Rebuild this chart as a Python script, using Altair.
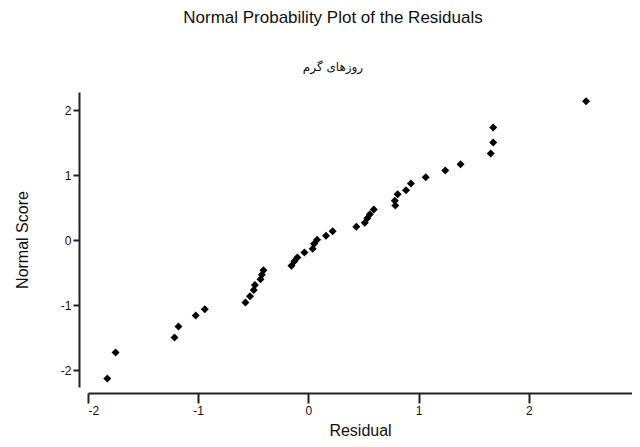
import altair as alt
import pandas as pd

residual = [-1.825, -1.750, -1.215, -1.179, -1.022, -0.940, -0.571, -0.530, -0.496, -0.485,
            -0.435, -0.422, -0.408, -0.154, -0.127, -0.100, -0.036, 0.039, 0.052, 0.079,
            0.160, 0.220, 0.435, 0.512, 0.535, 0.558, 0.594, 0.789, 0.784, 0.810,
            0.886, 0.931, 1.065, 1.242, 1.381, 1.655, 1.677, 1.677, 2.520]
normal_score = [-2.128, -1.728, -1.497, -1.328, -1.158, -1.062, -0.958, -0.862, -0.769, -0.692,
                -0.600, -0.531, -0.462, -0.395, -0.323, -0.266, -0.189, -0.131, -0.054, 0.005,
                0.069, 0.138, 0.205, 0.269, 0.338, 0.400, 0.472, 0.534, 0.608, 0.708,
                0.769, 0.872, 0.969, 1.072, 1.169, 1.335, 1.503, 1.734, 2.138]
x_ticks = [-2, -1, 0, 1, 2, 3]
y_ticks = [-2, -1, 0, 1, 2]

df = pd.DataFrame({"Residual": residual, "Normal Score": normal_score})

FONT = "Liberation Sans"

chart = alt.Chart(df).mark_point(
    shape="diamond", filled=True, color="#000000", size=64, opacity=1
).encode(
    x=alt.X("Residual:Q",
            scale=alt.Scale(domain=[-2, 2.937], nice=False, zero=False),
            axis=alt.Axis(values=x_ticks, offset=6, tickSize=10, tickWidth=2,
                          domainWidth=2, domainColor="#222222", tickColor="#222222",
                          labelFontSize=12, labelFont=FONT, labelColor="#111111",
                          labelPadding=2, labelExpr="'' + datum.value",
                          title="Residual", titleFontSize=16, titleFont=FONT,
                          titleFontWeight="normal", titleColor="#111111",
                          titlePadding=6, grid=False)),
    y=alt.Y("Normal Score:Q",
            scale=alt.Scale(domain=[-2.26, 2.28], nice=False, zero=False),
            axis=alt.Axis(values=y_ticks, offset=9, tickSize=6, tickWidth=2,
                          domainWidth=2, domainColor="#222222", tickColor="#222222",
                          labelFontSize=12, labelFont=FONT, labelColor="#111111",
                          labelPadding=2, labelExpr="'' + datum.value",
                          title="Normal Score", titleFontSize=16, titleFont=FONT,
                          titleFontWeight="normal", titleColor="#111111",
                          titlePadding=30, grid=False)),
).properties(
    width=544,
    height=295,
    title=alt.TitleParams(
        text="Normal Probability Plot of the Residuals",
        subtitle="روزهای گرم",
        font=FONT, fontSize=17, fontWeight="normal", color="#111111",
        subtitleFont="DejaVu Sans", subtitleFontSize=12, subtitleColor="#111111",
        subtitlePadding=35, anchor="middle", dx=-27, offset=18,
    ),
    autosize=alt.AutoSizeParams(type="none"),
    padding={"left": 80, "top": 84, "right": 0, "bottom": 52},
).configure_view(stroke=None)

chart.save("out.html", embed_options={"renderer": "svg", "actions": False})
